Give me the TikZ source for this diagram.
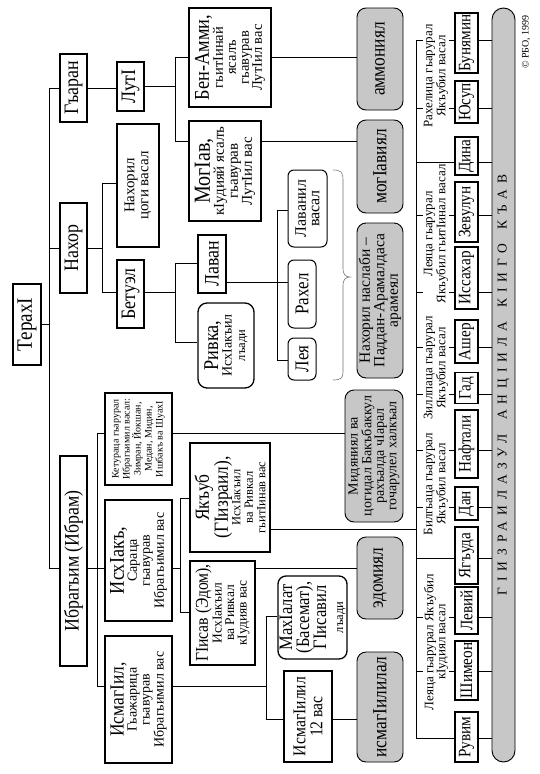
\documentclass[tikz,border=0pt]{standalone}
\usepackage{fontspec}
\setmainfont{Liberation Serif}
\newfontfamily\cond{Liberation Serif}[FakeStretch=0.87]
\newcommand\fs[2]{\fontsize{#1}{#2}\selectfont}
\tikzset{
  box/.style={draw, line width=1.5pt, rotate=90, inner sep=0pt, align=center},
  rbox/.style={draw, line width=1pt, rounded corners=6pt, rotate=90, inner sep=0pt, align=center},
  gbox/.style={draw, line width=0.9pt, fill=black!22, rounded corners=9pt, rotate=90, inner sep=0pt, align=center},
  wh/.style 2 args={minimum height=#1pt, minimum width=#2pt},
  ln/.style={line width=0.7pt},
  big/.style={font=\cond\fs{20.5}{20.5}},
  gword/.style={font=\cond\fs{20}{20}},
  son/.style={box, font=\cond\fs{17.5}{17.5}, minimum height=23pt},
  lab/.style={rotate=90, fill=white, inner sep=1pt, align=center, font=\fs{13}{12}}
}
\begin{document}
\begin{tikzpicture}[x=1pt,y=-1pt]
\fill[white] (0,0) rectangle (540,774);
\useasboundingbox (0,0) rectangle (540,774);

% generation nodes
\node[box, wh={28}{81}, font=\cond\fs{22}{22}] (terah) at (27,324.5) {ТерахI};
\node[box, wh={27}{68}, big] (garan) at (73.5,88) {Гъаран};
\node[box, wh={27}{90}, big] (nahor) at (73.5,248) {Нахор};
\node[box, wh={27}{210}, big] (ibragim) at (73.5,561) {Ибрагьим (Ибрам)};
\node[box, wh={27}{49}, big] (lut) at (130.5,86.5) {ЛутI};
\node[box, wh={42}{123}, font=\fs{15}{14}] (nahorsons) at (138,185.5) {Нахорил\\цоги васал};
\node[box, wh={27}{68}, big] (betuel) at (130.5,294) {Бетуэл};
\node[box, wh={67}{92}, font=\fs{10}{11}] (ketura) at (138.5,439) {Кетураца гьарурал\\Ибрагьимил васал:\\Зимран, Йокшан,\\Медан, Мидин,\\Ишбакъ ва ШуахI};
\node[box, wh={67}{121}, font=\fs{14}{13}] (ishak) at (138.5,560.5) {{\cond\fs{21}{21}ИсхIакъ,}\\Сараца\\гьавурав\\Ибрагьимил вас};
\node[box, wh={67}{127}, font=\fs{14}{13}] (ismail) at (138.5,699.5) {{\cond\fs{20}{20}ИсмагIил,}\\Гьажарица\\гьавурав\\Ибрагьимил вас};
\node[box, wh={82}{99}, font=\fs{14.5}{13}] (benammi) at (230,57.5) {{\cond\fs{21}{21}Бен-Амми,}\\гьитIинай\\ясалъ\\гьавурав\\ЛутIил вас};
\node[box, wh={72}{100}, font=\fs{15}{14}] (moav) at (225,171) {{\cond\fs{23}{23}МогIав,}\\кIудияй ясалъ\\гьавурав\\ЛутIил вас};
\node[box, wh={28}{58}, big] (lavan) at (212,264) {Лаван};
\node[rbox, line width=1.3pt, rounded corners=9pt, wh={56}{85}, font=\fs{14}{13.5}] (rivka) at (226,345.5) {{\cond\fs{21}{20}Ривка,}\\ИсхIакъил\\{\fs{12.5}{12.5}лъади}};
\node[box, wh={80}{109}, font=\fs{12.5}{12.5}] (yakub) at (230,497.5) {{\cond\fs{20}{19}Якъуб}\\{\cond\fs{20}{19}(ГIизраил),}\\ИсхIакъил\\ва Ривкал\\гьитIинав вас};
\node[box, wh={65}{104}, font=\fs{13.5}{12.5}] (isav) at (222.5,613) {{\cond\fs{18}{18}ГIисав (Эдом),}\\ИсхIакъил\\ва Ривкал\\кIудияв вас};
\node[rbox, wh={39}{77}, font=\fs{16}{13.5}] (lavansons) at (307.5,208.5) {Лаванил\\васал};
\node[rbox, wh={28}{68}, font=\cond\fs{19.5}{19.5}] (rahel) at (302,294) {Рахел};
\node[rbox, wh={28}{42}, font=\cond\fs{19.5}{19.5}] (leah) at (302,359) {Лея};
\node[rbox, line width=1.3pt, rounded corners=8pt, wh={69}{83}, font=\cond\fs{19}{17}] (mahalat) at (312.5,617.5) {МахIалат\\(Басемат),\\ГIисавил\\{\normalfont\fs{12.5}{12.5}лъади}};
\node[box, wh={48}{91}, font=\cond\fs{18}{17}] (ism12) at (308,716.5) {ИсмагIилил\\12 вас};

% peoples
\node[gbox, gword, wh={46}{102}] (ammon) at (380,59) {аммониял};
\node[gbox, gword, wh={46}{93}] (moavites) at (380,166.5) {могIавиял};
\node[gbox, wh={46}{155}, font=\fs{15.5}{13.5}] (nahorites) at (380,300.5) {Нахорил наслаби –\\Паддан-Арамалдаса\\арамеял};
\node[gbox, wh={58}{132}, font=\fs{14}{12.5}] (midian) at (374,456) {Мидяниял ва\\цогидал Бакъбаккул\\рахъалда чIарал\\гочарулел халкъал};
\node[gbox, gword, wh={46}{82}] (edom) at (380,578) {эдомиял};
\node[gbox, gword, wh={46}{110}] (ismaelites) at (380,707) {исмагIилилал};

% sons of Jacob
\node[son, minimum width=60pt] (benjamin) at (466.5,43) {Бунямин};
\node[son, minimum width=42pt] (joseph) at (466.5,102) {Юсуп};
\node[son, minimum width=38pt] (dinah) at (466.5,156) {Дина};
\node[son, minimum width=60pt] (zebulun) at (466.5,212) {Зевулун};
\node[son, minimum width=62pt] (issachar) at (466.5,278) {Иссахар};
\node[son, minimum width=43pt] (asher) at (466.5,341.5) {Ашер};
\node[son, minimum width=31pt] (gad) at (466.5,388) {Гад};
\node[son, minimum width=68pt] (naphtali) at (466.5,444) {Нафтали};
\node[son, minimum width=33pt] (dan) at (466.5,503.5) {Дан};
\node[son, minimum width=57pt] (judah) at (466.5,555.5) {Ягъуда};
\node[son, minimum width=47pt] (levi) at (466.5,610.5) {Левий};
\node[son, minimum width=59pt] (simeon) at (466.5,670.5) {Шимеон};
\node[son, minimum width=50pt] (reuben) at (466.5,737) {Рувим};

\node[draw, line width=0.9pt, fill=black!22, rounded corners=11.5pt, rotate=90, wh={23}{754}, inner sep=0pt, font=\fs{13.5}{13.5}] (bar) at (503.5,385)
  {\addfontfeature{LetterSpace=44}ГIИЗРАИЛАЗУЛ\hspace{14pt}АНЦIИЛА\hspace{14pt}КIИГО\hspace{14pt}КЪАВ};
\node[rotate=90, inner sep=0pt, font=\fs{10}{10}] (copy) at (526,42) {© РБО, 1999};

% connectors
\coordinate (spine) at (49,0);
\coordinate (ibrj) at (0,568);
\draw[ln] (terah.south) -- (terah.south -| spine);
\draw[ln] (garan.north) -- (garan.north -| spine) -- (spine |- ibrj) -- (ibragim.north |- ibrj);
\draw[ln] (nahor.north) -- (nahor.north -| spine);
\draw[ln] (garan.south) -- (garan.south -| lut.north);
\coordinate (lb) at (175,0);
\coordinate (mvy) at (0,141);
\draw[ln] (lut.south) -- (lut.south -| lb);
\draw[ln] (benammi.north) -- (benammi.north -| lb) -- (lb |- mvy) -- (moav.north |- mvy);
\draw[ln] (benammi.south) -- (benammi.south -| ammon.north);
\draw[ln] (moav.south |- mvy) -- (moavites.north |- mvy);
\coordinate (nj) at (102,0);
\coordinate (nsy) at (0,183);
\coordinate (bty) at (0,292);
\draw[ln] (nahor.south) -- (nahor.south -| nj);
\draw[ln] (nahorsons.north |- nsy) -- (nj |- nsy) -- (nj |- bty) -- (betuel.north |- bty);
\coordinate (lvy) at (0,263);
\coordinate (rvy) at (0,342);
\draw[ln] (betuel.south |- bty) -- (lb |- bty);
\draw[ln] (lavan.north |- lvy) -- (lb |- lvy) -- (lb |- rvy) -- (rivka.north |- rvy);
\coordinate (ly) at (0,282);
\coordinate (lj) at (277,0);
\coordinate (lsy) at (0,210);
\coordinate (ley) at (0,360);
\draw[ln] (lavan.south |- ly) -- (rahel.north |- ly);
\draw[ln] (lavansons.north |- lsy) -- (lj |- lsy) -- (lj |- ley) -- (leah.north |- ley);
\coordinate (ij) at (97,0);
\coordinate (kty) at (0,433);
\coordinate (isy) at (0,686);
\draw[ln] (ibragim.south |- ibrj) -- (ishak.north |- ibrj);
\draw[ln] (ketura.north |- kty) -- (ij |- kty) -- (ij |- isy) -- (ismail.north |- isy);
\draw[ln] (ketura.south |- kty) -- (midian.north |- kty);
\coordinate (sj) at (180,0);
\coordinate (yky) at (0,498);
\coordinate (esy) at (0,612);
\draw[ln] (ishak.south |- ibrj) -- (sj |- ibrj);
\draw[ln] (yakub.north |- yky) -- (sj |- yky) -- (sj |- esy) -- (isav.north |- esy);
\coordinate (edy) at (0,568);
\draw[ln] (isav.south |- edy) -- (edom.north |- edy);
\coordinate (mj) at (266,0);
\coordinate (mhy) at (0,616);
\coordinate (iwy) at (0,719);
\draw[ln] (ismail.south |- isy) -- (mj |- isy);
\draw[ln] (mahalat.north |- mhy) -- (mj |- mhy) -- (mj |- iwy) -- (ism12.north |- iwy);
\draw[ln] (ism12.south |- iwy) -- (ismaelites.north |- iwy);
\coordinate (jb) at (416,0);
\coordinate (jky) at (0,529);
\coordinate (jtop) at (0,40);
\coordinate (jbot) at (0,738);
\draw[ln] (yakub.south |- jky) -- (jb |- jky);
\draw[ln] (jb |- jtop) -- (jb |- jbot);
\foreach \s/\y in {benjamin/40, joseph/108, dinah/162, zebulun/215, issachar/292, asher/347, gad/394, naphtali/450, dan/507, judah/558, levi/617, simeon/671, reuben/738}{
  \draw[ln] (jb |- 0,\y) -- (\s.north |- 0,\y);
  \draw[ln] (\s.south |- 0,\y) -- (bar.north |- 0,\y);
}

% brace
\draw[black!55, line width=0.6pt] (333,170) .. controls (341,170) and (343,172) .. (343,180) -- (343,268) .. controls (343,275) and (346,277) .. (350,277) .. controls (346,277) and (343,279) .. (343,286) -- (343,372) .. controls (343,378) and (341,380) .. (333,380);

% group labels
\node[lab] (lgr) at (436,76) {Рахелица гьарурал\\Якъубил васал};
\node[lab] (lgly) at (436,234) {Леяца гьарурал\\Якъубил гьитIинал васал};
\node[lab] (lgz) at (436,368) {Зиллпаца гьарурал\\Якъубил васал};
\node[lab] (lgb) at (436,484) {Билгьаца гьарурал\\Якъубил васал};
\node[lab] (lgle) at (436,642) {Леяца гьарурал Якъубил\\кIудиял васал};
\end{tikzpicture}
\end{document}
